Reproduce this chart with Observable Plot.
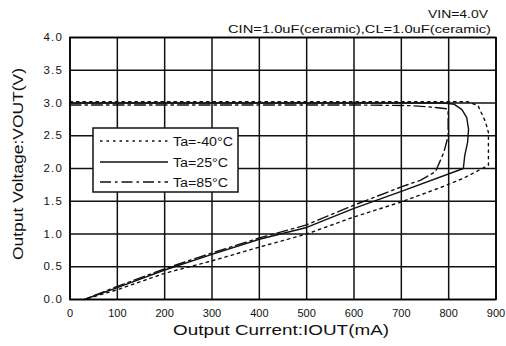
<!DOCTYPE html>
<html><head><meta charset="utf-8">
<script src="https://cdn.jsdelivr.net/npm/d3@7"></script>
<script src="https://cdn.jsdelivr.net/npm/@observablehq/plot@0.6"></script>
<style>
body{margin:0;background:#fff;}
#chart{position:relative;width:506px;height:346px;}
</style>
</head><body><div id="chart"></div>
<script>
const seriesNames = ["Ta=-40°C", "Ta=25°C", "Ta=85°C"];
const dashes = ["2.5,4", null, "11,4,2.5,4"];
// Ta=-40°C (dotted)
const xM40 = [0, 200, 400, 600, 840, 862, 878, 884, 884, 831, 783, 700, 600, 500, 400, 300, 200, 100, 30];
const yM40 = [3.02, 3.02, 3.02, 3.02, 3.02, 2.96, 2.71, 2.55, 2.05, 1.85, 1.71, 1.49, 1.26, 1.0, 0.8, 0.59, 0.4, 0.15, 0];
// Ta=25°C (solid)
const x25 = [0, 200, 400, 600, 790, 812, 828, 838, 842, 840, 834, 831, 700, 600, 500, 400, 300, 200, 100, 30];
const y25 = [3.0, 3.0, 3.0, 3.0, 3.0, 2.98, 2.9, 2.78, 2.6, 2.4, 2.2, 2.0, 1.65, 1.39, 1.1, 0.92, 0.69, 0.45, 0.18, 0];
// Ta=85°C (dash-dot)
const x85 = [0, 200, 400, 600, 720, 760, 797, 799, 799, 790, 772, 740, 700, 600, 500, 400, 300, 200, 100, 30];
const y85 = [2.97, 2.97, 2.97, 2.97, 2.96, 2.94, 2.91, 2.85, 2.5, 2.25, 1.95, 1.82, 1.72, 1.44, 1.14, 0.94, 0.71, 0.47, 0.2, 0];
const xTicks = [0, 100, 200, 300, 400, 500, 600, 700, 800, 900];
const yTicks = [0, 0.5, 1, 1.5, 2, 2.5, 3, 3.5, 4];
const titleLines = ["VIN=4.0V", "CIN=1.0uF(ceramic),CL=1.0uF(ceramic)"];
const xTitle = "Output Current:IOUT(mA)";
const yTitle = "Output Voltage:VOUT(V)";

const series = [[xM40, yM40], [x25, y25], [x85, y85]];
const marks = [
  Plot.gridX(xTicks, {stroke: "#111", strokeOpacity: 1, strokeWidth: 1.5}),
  Plot.gridY(yTicks, {stroke: "#111", strokeOpacity: 1, strokeWidth: 1.5}),
  Plot.axisX(xTicks, {tickSize: 0, tickPadding: 10, fontSize: 11, label: null, tickFormat: d => String(d)}),
  Plot.axisY(yTicks, {tickSize: 0, tickPadding: 7, fontSize: 11.5, label: null, tickFormat: d => d.toFixed(1)}),
];
series.forEach(([xs, ys], i) => {
  const data = xs.map((x, j) => ({x, y: ys[j]}));
  marks.push(Plot.line(data, {x: "x", y: "y", stroke: "#111", strokeWidth: 1.4, strokeDasharray: dashes[i] || undefined}));
});
marks.push(Plot.frame({stroke: "#000", strokeWidth: 1.6}));

const plot = Plot.plot({
  width: 506, height: 346,
  marginLeft: 69.5, marginRight: 10.5, marginTop: 37, marginBottom: 47,
  style: {fontFamily: "'Liberation Sans', Arial, sans-serif", color: "#111", background: "#fff"},
  x: {domain: [0, 900]},
  y: {domain: [0, 4]},
  marks
});
document.getElementById("chart").appendChild(plot);

const svg = d3.select(plot);
svg.selectAll("g[aria-label='y-axis tick label']").attr("letter-spacing", "1.2");
const ff = "'Liberation Sans', Arial, sans-serif";
const g = svg.append("g").attr("font-family", ff).attr("fill", "#111");
g.append("text").attr("x", 488).attr("y", 18).attr("text-anchor", "end").attr("font-size", 11.5)
  .attr("textLength", 60).attr("lengthAdjust", "spacingAndGlyphs").text(titleLines[0]);
g.append("text").attr("x", 491).attr("y", 33).attr("text-anchor", "end").attr("font-size", 11.5)
  .attr("textLength", 263).attr("lengthAdjust", "spacingAndGlyphs").text(titleLines[1]);
g.append("text").attr("x", 281).attr("y", 335).attr("text-anchor", "middle").attr("font-size", 15)
  .attr("textLength", 216).attr("lengthAdjust", "spacingAndGlyphs").text(xTitle);
g.append("text").attr("transform", "translate(23,164) rotate(-90)").attr("text-anchor", "middle").attr("font-size", 15.5)
  .attr("textLength", 192).attr("lengthAdjust", "spacingAndGlyphs").text(yTitle);

// legend
const lg = svg.append("g").attr("font-family", ff).attr("text-anchor", "start");
lg.append("rect").attr("x", 93).attr("y", 128).attr("width", 145).attr("height", 64)
  .attr("fill", "#fff").attr("stroke", "#111").attr("stroke-width", 1.5);
const ly = [141, 162, 182];
const lw = [60, 55, 55];
seriesNames.forEach((name, i) => {
  const l = lg.append("line").attr("x1", 100).attr("x2", 168).attr("y1", ly[i]).attr("y2", ly[i])
    .attr("stroke", "#111").attr("stroke-width", 1.4);
  if (dashes[i]) l.attr("stroke-dasharray", dashes[i]);
  lg.append("text").attr("x", 173).attr("y", ly[i] + 4.5).attr("font-size", 12.5).attr("fill", "#111")
    .attr("text-anchor", "start").attr("textLength", lw[i]).attr("lengthAdjust", "spacingAndGlyphs").text(name);
});
</script></body></html>
